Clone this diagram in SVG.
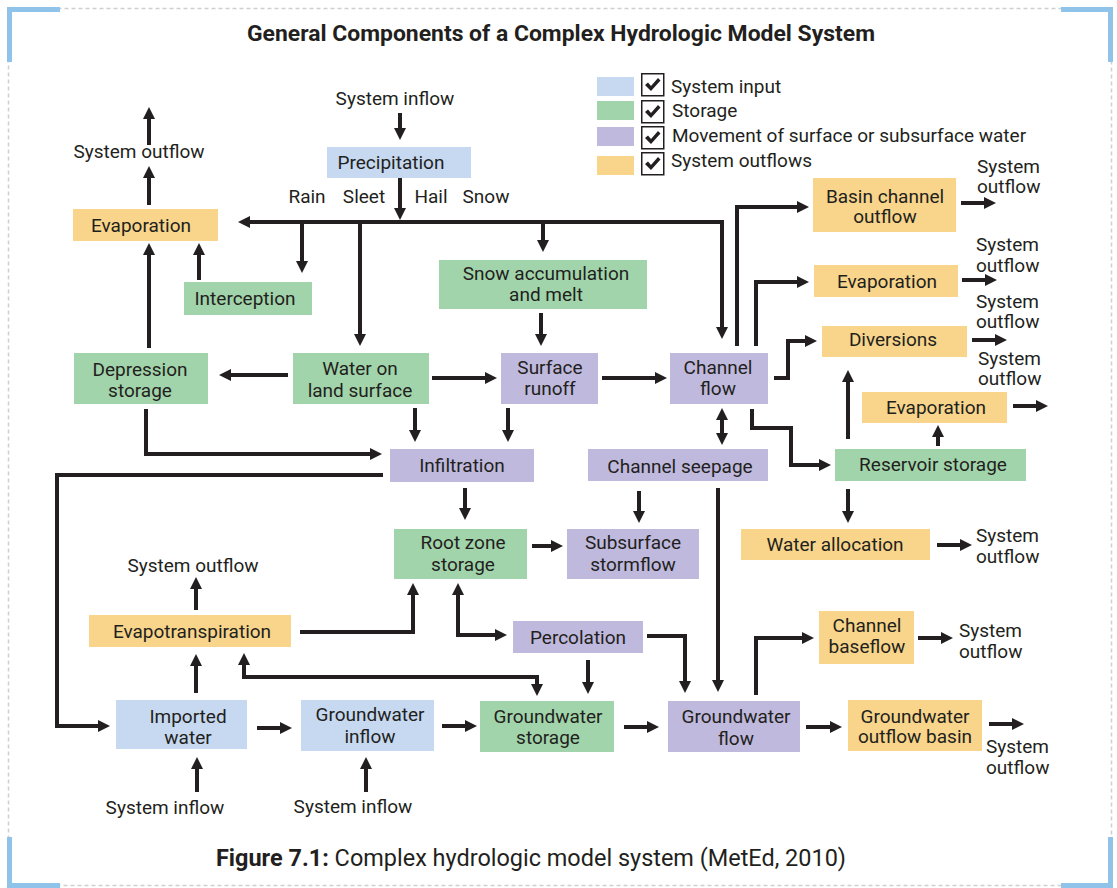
<svg xmlns="http://www.w3.org/2000/svg" width="1117" height="888" viewBox="0 0 1117 888">
<style>
.in{fill:#c6d9f1}.st{fill:#a1d4aa}.mv{fill:#bfb9dd}.out{fill:#f8d58a}
text{font-family:Roboto,"Liberation Sans",sans-serif;font-size:19px;fill:#231f20;text-anchor:middle}
.s{text-anchor:start}
#connectors path{stroke:#231f20;stroke-width:4;fill:none;marker-end:url(#ah)}
#connectors path.bi{marker-start:url(#ah)}
.cb{fill:#fff;stroke:#231f20;stroke-width:1.5}
.ck{fill:#231f20}
</style>
<defs>
<marker id="ah" markerUnits="userSpaceOnUse" markerWidth="12" markerHeight="12" viewBox="0 0 12 12" refX="3" refY="6" orient="auto-start-reverse"><path d="M0,0 L12,6 L0,12 Z" fill="#231f20"/></marker>
</defs>
<rect width="1117" height="888" fill="#fff"/>
<g id="frame">
<rect x="8.5" y="8.5" width="1103" height="877" fill="none" stroke="#cfcfcf" stroke-width="1.5" stroke-dasharray="4 3"/>
<path d="M9.5,62 V9.5 H60 M1061,9.5 H1110.5 V62 M9.5,837 V885.5 H60 M1061,885.5 H1110.5 V837" fill="none" stroke="#8fc3ea" stroke-width="5"/>
</g>
<text id="title" x="561" y="41" font-weight="bold" style="font-size:22px" textLength="628" lengthAdjust="spacingAndGlyphs">General Components of a Complex Hydrologic Model System</text>
<g id="legend">
<rect class="in" x="597" y="77" width="37" height="19"/>
<rect class="st" x="597" y="101" width="37" height="19"/>
<rect class="mv" x="597" y="127" width="37" height="19"/>
<rect class="out" x="597" y="156" width="37" height="19"/>
<g transform="translate(641,73)"><rect class="cb" x="0.75" y="0.75" width="22" height="22"/><path class="ck" d="M4,12 L7,9.5 L10,13 L17,5 L19.5,7.5 L10,18 Z"/></g>
<g transform="translate(641,100)"><rect class="cb" x="0.75" y="0.75" width="22" height="22"/><path class="ck" d="M4,12 L7,9.5 L10,13 L17,5 L19.5,7.5 L10,18 Z"/></g>
<g transform="translate(641,126)"><rect class="cb" x="0.75" y="0.75" width="22" height="22"/><path class="ck" d="M4,12 L7,9.5 L10,13 L17,5 L19.5,7.5 L10,18 Z"/></g>
<g transform="translate(641,152)"><rect class="cb" x="0.75" y="0.75" width="22" height="22"/><path class="ck" d="M4,12 L7,9.5 L10,13 L17,5 L19.5,7.5 L10,18 Z"/></g>
<text class="s" x="671" y="93">System input</text>
<text class="s" x="672" y="117">Storage</text>
<text class="s" x="672" y="142">Movement of surface or subsurface water</text>
<text class="s" x="671" y="167">System outflows</text>
</g>
<g id="labels">
<text x="395" y="105">System inflow</text>
<text x="139" y="158">System outflow</text>
<text x="307" y="203">Rain</text>
<text x="364" y="203">Sleet</text>
<text x="431" y="203">Hail</text>
<text x="486" y="203">Snow</text>
<text x="193" y="572">System outflow</text>
<text x="165" y="814">System inflow</text>
<text x="353" y="813">System inflow</text>
<text class="s" x="977" y="173">System</text><text class="s" x="977" y="193">outflow</text>
<text class="s" x="976" y="251">System</text><text class="s" x="976" y="272">outflow</text>
<text class="s" x="976" y="308">System</text><text class="s" x="976" y="328">outflow</text>
<text class="s" x="978" y="365">System</text><text class="s" x="978" y="385">outflow</text>
<text class="s" x="976" y="542">System</text><text class="s" x="976" y="563">outflow</text>
<text class="s" x="959" y="637">System</text><text class="s" x="959" y="658">outflow</text>
<text class="s" x="986" y="753">System</text><text class="s" x="986" y="774">outflow</text>
</g>
<g id="precipitation"><rect class="in" x="327" y="147" width="144" height="31"/><text x="391" y="169">Precipitation</text></g>
<g id="evaporation-left"><rect class="out" x="73" y="209" width="145" height="32"/><text x="141" y="232">Evaporation</text></g>
<g id="interception"><rect class="st" x="184" y="282" width="128" height="33"/><text x="245" y="305">Interception</text></g>
<g id="depression-storage"><rect class="st" x="74" y="353" width="134" height="51"/><text x="140" y="376">Depression</text><text x="140" y="397">storage</text></g>
<g id="water-on-land"><rect class="st" x="293" y="353" width="136" height="51"/><text x="360" y="375">Water on</text><text x="360" y="397">land surface</text></g>
<g id="snow"><rect class="st" x="439" y="260" width="208" height="49"/><text x="546" y="280">Snow accumulation</text><text x="546" y="301">and melt</text></g>
<g id="surface-runoff"><rect class="mv" x="501" y="353" width="97" height="51"/><text x="550" y="374">Surface</text><text x="550" y="395">runoff</text></g>
<g id="channel-flow"><rect class="mv" x="670" y="353" width="98" height="51"/><text x="718" y="374">Channel</text><text x="718" y="395">flow</text></g>
<g id="infiltration"><rect class="mv" x="390" y="449" width="144" height="33"/><text x="462" y="472">Infiltration</text></g>
<g id="channel-seepage"><rect class="mv" x="588" y="449" width="180" height="32"/><text x="680" y="473">Channel seepage</text></g>
<g id="basin-channel-outflow"><rect class="out" x="813" y="178" width="143" height="54"/><text x="885" y="203">Basin channel</text><text x="885" y="223">outflow</text></g>
<g id="evaporation-1"><rect class="out" x="814" y="265" width="144" height="32"/><text x="887" y="288">Evaporation</text></g>
<g id="diversions"><rect class="out" x="822" y="326" width="145" height="31"/><text x="893" y="346">Diversions</text></g>
<g id="evaporation-2"><rect class="out" x="862" y="392" width="145" height="31"/><text x="936" y="414">Evaporation</text></g>
<g id="reservoir-storage"><rect class="st" x="835" y="449" width="191" height="32"/><text x="933" y="471">Reservoir storage</text></g>
<g id="water-allocation"><rect class="out" x="741" y="529" width="189" height="31"/><text x="835" y="551">Water allocation</text></g>
<g id="root-zone"><rect class="st" x="394" y="529" width="133" height="50"/><text x="463" y="549">Root zone</text><text x="463" y="571">storage</text></g>
<g id="subsurface-stormflow"><rect class="mv" x="567" y="529" width="132" height="50"/><text x="633" y="549">Subsurface</text><text x="633" y="571">stormflow</text></g>
<g id="evapotranspiration"><rect class="out" x="89" y="615" width="202" height="32"/><text x="192" y="638">Evapotranspiration</text></g>
<g id="percolation"><rect class="mv" x="513" y="621" width="130" height="32"/><text x="578" y="644">Percolation</text></g>
<g id="channel-baseflow"><rect class="out" x="819" y="611" width="95" height="53"/><text x="867" y="632">Channel</text><text x="867" y="653">baseflow</text></g>
<g id="imported-water"><rect class="in" x="116" y="700" width="131" height="49"/><text x="188" y="723">Imported</text><text x="188" y="744">water</text></g>
<g id="groundwater-inflow"><rect class="in" x="301" y="700" width="133" height="51"/><text x="370" y="721">Groundwater</text><text x="370" y="743">inflow</text></g>
<g id="groundwater-storage"><rect class="st" x="480" y="701" width="134" height="51"/><text x="548" y="723">Groundwater</text><text x="548" y="744">storage</text></g>
<g id="groundwater-flow"><rect class="mv" x="668" y="701" width="132" height="51"/><text x="736" y="723">Groundwater</text><text x="736" y="745">flow</text></g>
<g id="groundwater-outflow-basin"><rect class="out" x="848" y="700" width="134" height="51"/><text x="915" y="723">Groundwater</text><text x="915" y="743">outflow basin</text></g>
<g id="connectors">
<path d="M400,113 V131"/>
<path d="M400,178 V211"/>
<path class="bi" d="M247,222 H722 V330"/>
<path d="M149,145 V116"/>
<path d="M149,205 V175"/>
<path d="M199,280 V252"/>
<path d="M149,348 V252"/>
<path d="M302,222 V264"/>
<path d="M360,222 V337"/>
<path d="M543,222 V243"/>
<path d="M541,313 V337"/>
<path d="M288,375 H228"/>
<path d="M432,378 H488"/>
<path d="M602,378 H658"/>
<path d="M415,408 V433"/>
<path d="M508,408 V433"/>
<path d="M146,409 V454 H373"/>
<path d="M383,475 H57 V726 H101"/>
<path class="bi" d="M722,417 V436"/>
<path d="M737,346 V207 H800"/>
<path d="M756,346 V282 H800"/>
<path d="M774,378 H788 V341 H808"/>
<path d="M752,409 V428 H791 V465 H822"/>
<path d="M848,439 V379"/>
<path d="M938,446 V434"/>
<path d="M1013,406 H1039"/>
<path d="M961,203 H987"/>
<path d="M962,280 H988"/>
<path d="M972,340 H998"/>
<path d="M465,488 V511"/>
<path d="M639,491 V514"/>
<path d="M532,546 H554"/>
<path d="M718,488 V683"/>
<path d="M300,632 H413 V592"/>
<path class="bi" d="M458,592 V635 H498"/>
<path d="M588,660 V685"/>
<path d="M647,636 H685 V684"/>
<path d="M624,727 H650"/>
<path d="M442,726 H468"/>
<path d="M257,728 H283"/>
<path class="bi" d="M244,662 V677 H537 V687"/>
<path d="M196,610 V586"/>
<path d="M196,693 V663"/>
<path d="M197,792 V766"/>
<path d="M366,792 V766"/>
<path d="M848,489 V514"/>
<path d="M937,545 H963"/>
<path d="M756,695 V638 H805"/>
<path d="M918,638 H944"/>
<path d="M806,727 H833"/>
<path d="M989,724 H1015"/>
</g>
<text id="caption" x="531" y="866" style="font-size:23px" textLength="630" lengthAdjust="spacingAndGlyphs"><tspan font-weight="bold">Figure 7.1:</tspan> Complex hydrologic model system (MetEd, 2010)</text>
</svg>
